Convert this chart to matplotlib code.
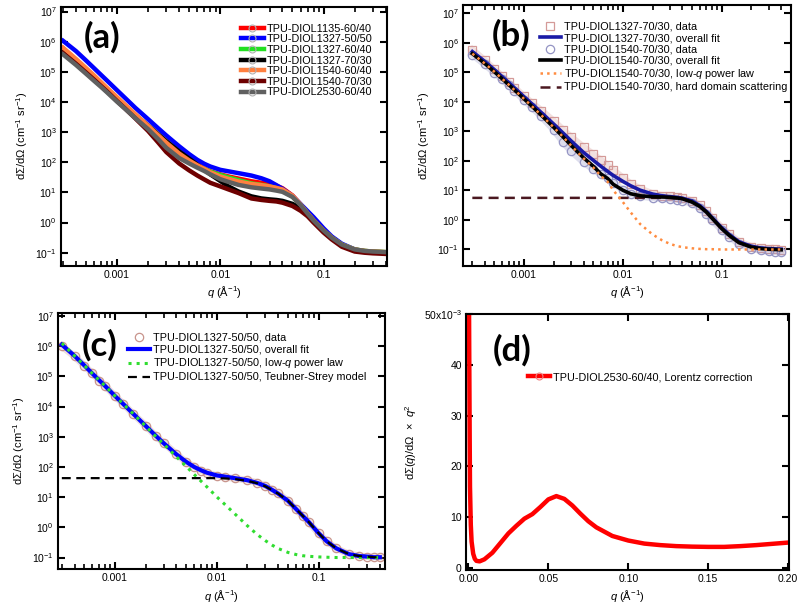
import numpy as np
import matplotlib
matplotlib.use('Agg')
import matplotlib.pyplot as plt
from matplotlib.lines import Line2D
from matplotlib.ticker import LogLocator, NullFormatter, FixedLocator, FixedFormatter, NullLocator

plt.rcParams['font.family'] = ['Liberation Sans', 'DejaVu Sans']
plt.rcParams['mathtext.fontset'] = 'custom'
plt.rcParams['mathtext.rm'] = 'Liberation Sans'
plt.rcParams['mathtext.it'] = 'Liberation Sans:italic'
plt.rcParams['mathtext.bf'] = 'Liberation Sans:bold'
plt.rcParams['mathtext.default'] = 'regular'

# ---------------- data (log10 of intensity, cm^-1 sr^-1) ----------------
q = [3.0e-4, 4e-4, 5e-4, 6e-4, 7e-4, 8e-4, 1e-3, 1.2e-3, 1.5e-3, 2e-3, 2.5e-3, 3e-3,
     4e-3, 5e-3, 6e-3, 7e-3, 8e-3, 0.01, 0.012, 0.015, 0.02, 0.025, 0.03, 0.035,
     0.04, 0.05, 0.06, 0.07, 0.08, 0.1, 0.12, 0.15, 0.2, 0.25, 0.3, 0.35, 0.4]

log_1135_6040 = [5.78, 5.40, 5.09, 4.84, 4.62, 4.43, 4.12, 3.87, 3.56, 3.18, 2.90, 2.66,
                 2.33, 2.09, 1.92, 1.80, 1.70, 1.60, 1.53, 1.46, 1.37, 1.32, 1.28, 1.22,
                 1.14, 0.90, 0.60, 0.31, 0.08, -0.27, -0.50, -0.74, -0.90, -0.95, -0.97, -0.98, -0.99]
log_1327_5050 = [6.03, 5.69, 5.38, 5.12, 4.90, 4.71, 4.39, 4.13, 3.81, 3.43, 3.13, 2.89,
                 2.53, 2.27, 2.08, 1.95, 1.86, 1.75, 1.70, 1.64, 1.56, 1.47, 1.37, 1.24,
                 1.12, 0.88, 0.61, 0.38, 0.18, -0.19, -0.46, -0.70, -0.89, -0.95, -0.97, -0.99, -0.99]
log_1327_6040 = [5.68, 5.32, 5.02, 4.77, 4.56, 4.37, 4.06, 3.81, 3.51, 3.12, 2.82, 2.53,
                 2.21, 2.02, 1.88, 1.78, 1.69, 1.58, 1.50, 1.41, 1.30, 1.25, 1.20, 1.14,
                 1.07, 0.86, 0.58, 0.30, 0.07, -0.27, -0.50, -0.73, -0.89, -0.94, -0.96, -0.97, -0.98]
log_1327_7030 = [5.72, 5.36, 5.06, 4.81, 4.60, 4.41, 4.10, 3.86, 3.57, 3.22, 2.93, 2.70,
                 2.36, 2.12, 1.92, 1.75, 1.60, 1.38, 1.20, 1.03, 0.87, 0.80, 0.77, 0.75,
                 0.72, 0.62, 0.47, 0.28, 0.07, -0.28, -0.51, -0.75, -0.91, -0.96, -0.98, -0.99, -1.00]
log_1540_6040 = [5.80, 5.43, 5.13, 4.88, 4.66, 4.47, 4.16, 3.91, 3.60, 3.21, 2.90, 2.65,
                 2.29, 2.06, 1.90, 1.78, 1.67, 1.53, 1.45, 1.36, 1.28, 1.24, 1.20, 1.15,
                 1.10, 0.89, 0.59, 0.31, 0.08, -0.26, -0.50, -0.73, -0.89, -0.94, -0.96, -0.97, -0.98]
log_1540_7030 = [5.62, 5.27, 4.98, 4.74, 4.53, 4.35, 4.03, 3.78, 3.46, 3.04, 2.66, 2.34,
                 1.96, 1.73, 1.56, 1.43, 1.32, 1.20, 1.10, 0.98, 0.80, 0.75, 0.72, 0.70,
                 0.66, 0.55, 0.39, 0.21, 0.00, -0.33, -0.56, -0.80, -0.96, -1.00, -1.02, -1.03, -1.04]
log_2530_6040 = [5.58, 5.23, 4.94, 4.70, 4.50, 4.32, 4.01, 3.77, 3.47, 3.10, 2.77, 2.48,
                 2.14, 1.96, 1.82, 1.71, 1.60, 1.44, 1.35, 1.25, 1.17, 1.13, 1.10, 1.06,
                 1.02, 0.85, 0.58, 0.30, 0.07, -0.26, -0.50, -0.73, -0.89, -0.94, -0.96, -0.97, -0.98]

labels_a = ['TPU-DIOL1135-60/40', 'TPU-DIOL1327-50/50', 'TPU-DIOL1327-60/40',
            'TPU-DIOL1327-70/30', 'TPU-DIOL1540-60/40', 'TPU-DIOL1540-70/30',
            'TPU-DIOL2530-60/40']

# panel (b)
log_b_data1327 = [5.76, 5.40, 5.10, 4.86, 4.66, 4.48, 4.18, 3.96, 3.70, 3.34, 3.04, 2.80,
                  2.46, 2.22, 2.02, 1.84, 1.68, 1.42, 1.22, 1.05, 0.88, 0.82, 0.79, 0.77,
                  0.74, 0.64, 0.49, 0.29, 0.07, -0.27, -0.50, -0.75, -0.91, -0.96, -0.98, -1.00, -1.02]
log_b_fit1327 = [5.70, 5.37, 5.09, 4.85, 4.65, 4.47, 4.17, 3.93, 3.63, 3.24, 2.93, 2.67,
                 2.28, 2.02, 1.81, 1.64, 1.50, 1.30, 1.15, 1.00, 0.87, 0.81, 0.78, 0.76,
                 0.73, 0.64, 0.48, 0.28, 0.07, -0.27, -0.51, -0.75, -0.90, -0.96, -0.98, -0.99, -1.00]
log_b_data1540 = [5.60, 5.27, 4.99, 4.76, 4.56, 4.38, 4.06, 3.82, 3.50, 3.05, 2.62, 2.33,
                  1.95, 1.72, 1.54, 1.40, 1.24, 1.02, 0.88, 0.80, 0.74, 0.72, 0.70, 0.68,
                  0.65, 0.55, 0.40, 0.20, -0.01, -0.35, -0.58, -0.82, -0.98, -1.04, -1.07, -1.09, -1.11]
log_b_fit1540 = [5.63, 5.30, 5.02, 4.78, 4.58, 4.40, 4.10, 3.85, 3.54, 3.13, 2.80, 2.52,
                 2.10, 1.82, 1.55, 1.40, 1.20, 1.00, 0.88, 0.81, 0.78, 0.77, 0.76, 0.74,
                 0.71, 0.60, 0.45, 0.26, 0.05, -0.30, -0.54, -0.78, -0.93, -0.98, -1.00, -1.01, -1.02]
log_b_powerlaw = [5.63, 5.30, 5.02, 4.78, 4.58, 4.40, 4.10, 3.85, 3.54, 3.13, 2.80, 2.51,
                  2.08, 1.78, 1.48, 1.29, 1.00, 0.60, 0.25, -0.15, -0.50, -0.70, -0.82, -0.89,
                  -0.93, -0.97, -0.99, -1.00, -1.00, -1.01, -1.01, -1.01, -1.01, -1.01, -1.01, -1.01, -1.01]
log_b_hard = [0.74, 0.74, 0.74, 0.74, 0.74, 0.74, 0.74, 0.74, 0.74, 0.74, 0.74, 0.74,
              0.74, 0.74, 0.74, 0.74, 0.74, 0.74, 0.74, 0.74, 0.74, 0.74, 0.73, 0.72,
              0.70, 0.60, 0.45, 0.26, 0.05, -0.30, -0.54, -0.78, -0.93, -0.98, -1.00, -1.01, -1.02]
labels_b = ['TPU-DIOL1327-70/30, data', 'TPU-DIOL1327-70/30, overall fit',
            'TPU-DIOL1540-70/30, data', 'TPU-DIOL1540-70/30, overall fit',
            'TPU-DIOL1540-70/30, low-$\\mathit{q}$ power law',
            'TPU-DIOL1540-70/30, hard domain scattering']

# panel (c)
log_c_data = [6.00, 5.66, 5.35, 5.10, 4.86, 4.69, 4.34, 4.10, 3.76, 3.37, 3.03, 2.80,
              2.43, 2.16, 2.01, 1.88, 1.80, 1.71, 1.66, 1.62, 1.56, 1.48, 1.38, 1.25,
              1.13, 0.88, 0.60, 0.37, 0.17, -0.20, -0.46, -0.70, -0.89, -0.95, -0.97, -0.98, -0.99]
log_c_fit = [6.05, 5.68, 5.36, 5.09, 4.87, 4.68, 4.35, 4.09, 3.77, 3.36, 3.04, 2.79,
             2.42, 2.17, 2.00, 1.89, 1.81, 1.72, 1.68, 1.63, 1.56, 1.47, 1.37, 1.24,
             1.12, 0.88, 0.61, 0.38, 0.18, -0.19, -0.46, -0.70, -0.89, -0.95, -0.97, -0.99, -0.99]
log_c_powerlaw = [6.10, 5.68, 5.36, 5.09, 4.87, 4.68, 4.35, 4.09, 3.77, 3.35, 3.02, 2.76,
                  2.34, 2.02, 1.75, 1.53, 1.34, 1.01, 0.76, 0.45, 0.05, -0.24, -0.44, -0.59,
                  -0.70, -0.83, -0.90, -0.94, -0.96, -0.98, -0.99, -1.00, -1.00, -1.00, -1.00, -1.00, -1.00]
log_c_ts = [1.63, 1.63, 1.63, 1.63, 1.63, 1.63, 1.63, 1.63, 1.63, 1.63, 1.63, 1.63,
            1.63, 1.63, 1.63, 1.63, 1.63, 1.63, 1.62, 1.60, 1.54, 1.46, 1.36, 1.23,
            1.12, 0.88, 0.61, 0.38, 0.18, -0.19, -0.46, -0.70, -0.89, -0.95, -0.97, -0.99, -0.99]
labels_c = ['TPU-DIOL1327-50/50, data', 'TPU-DIOL1327-50/50, overall fit',
            'TPU-DIOL1327-50/50, low-$\\mathit{q}$ power law',
            'TPU-DIOL1327-50/50, Teubner-Strey model']

# panel (d) (values in units of 1e-3)
q_d = [0.0003, 0.0005, 0.0008, 0.001, 0.0015, 0.002, 0.003, 0.004, 0.005, 0.007, 0.01,
       0.015, 0.02, 0.025, 0.03, 0.035, 0.04, 0.045, 0.05, 0.055, 0.06, 0.065, 0.07,
       0.075, 0.08, 0.09, 0.1, 0.11, 0.12, 0.13, 0.14, 0.15, 0.16, 0.17, 0.18, 0.19, 0.2]
lorentz_d_milli = [58, 44, 26, 16, 8.5, 5.2, 2.8, 1.8, 1.4, 1.3, 1.7,
                   3.0, 4.9, 6.8, 8.3, 9.7, 10.6, 12.0, 13.5, 14.15, 13.6, 12.3, 10.7,
                   9.2, 8.0, 6.3, 5.4, 4.8, 4.5, 4.3, 4.2, 4.15, 4.15, 4.3, 4.5, 4.75, 5.0]
label_d = 'TPU-DIOL2530-60/40, Lorentz correction'

# ---------------- figure ----------------
fig = plt.figure(figsize=(8.0, 6.1), dpi=100)
W, H = 800.0, 610.0
def add_ax(l, t, r, b):
    return fig.add_axes([l / W, 1 - b / H, (r - l) / W, (b - t) / H])

ax_a = add_ax(61, 6.7, 387.3, 266)
ax_b = add_ax(463.3, 5, 790.7, 266)
ax_c = add_ax(58, 313.3, 385, 569.3)
ax_d = add_ax(466, 314, 789, 570)

qa = np.array(q)
ytick_vals = [10.0 ** k for k in range(-1, 8)]
ytick_labs = ['$10^{%d}$' % k for k in range(-1, 8)]
ylab = 'd\u03a3/d\u03a9 (cm$^{-1}$ sr$^{-1}$)'
xlab = '$\\mathit{q}$ (\u00c5$^{-1}$)'

def style_log(ax, xlim, ylim):
    ax.set_xscale('log')
    ax.set_yscale('log')
    ax.set_xlim(*xlim)
    ax.set_ylim(*ylim)
    ax.xaxis.set_major_locator(FixedLocator([0.001, 0.01, 0.1]))
    ax.xaxis.set_major_formatter(FixedFormatter(['0.001', '0.01', '0.1']))
    ax.xaxis.set_minor_locator(LogLocator(base=10, subs=np.arange(2, 10) * 1.0, numticks=30))
    ax.xaxis.set_minor_formatter(NullFormatter())
    ax.yaxis.set_major_locator(FixedLocator(ytick_vals))
    ax.yaxis.set_major_formatter(FixedFormatter(ytick_labs))
    ax.yaxis.set_minor_locator(NullLocator())
    ax.set_xlabel(xlab, fontsize=8, labelpad=3)
    ax.set_ylabel(ylab, fontsize=8, labelpad=4)

def style_common(ax):
    ax.tick_params(which='both', direction='in', top=True, right=True, labelsize=7.5,
                   pad=3, colors='black')
    ax.tick_params(which='major', length=5, width=1.5)
    ax.tick_params(which='minor', length=3.5, width=1.2)
    for s in ax.spines.values():
        s.set_linewidth(1.5)

def panel_letter(ax, txt, x, y):
    ax.text(x, y, txt, transform=ax.transAxes, ha='center', va='center',
            fontsize=25, fontweight='bold', family=['Lato', 'DejaVu Sans'])

# ---- (a)
cols_a = ['#ff0000', '#0000ff', '#22e022', '#000000', '#ff8040', '#6e0000', '#606060']
series_a = [log_1135_6040, log_1327_5050, log_1327_6040, log_1327_7030,
            log_1540_6040, log_1540_7030, log_2530_6040]
for vals, c in zip(series_a, cols_a):
    ax_a.plot(qa, 10.0 ** np.array(vals), color=c, lw=3.2, solid_joinstyle='round')
style_log(ax_a, (2.87e-4, 0.414), (10 ** -1.44, 10 ** 7.16))
style_common(ax_a)
h_a = [Line2D([0], [0], color=c, lw=3.2, marker='o', ms=5, mfc='none', mec='#b0b0b0', mew=0.8)
       for c in cols_a]
ax_a.legend(h_a, labels_a, loc='upper left', bbox_to_anchor=(0.552, 0.935), frameon=False,
            fontsize=7.8, handlelength=2.1, handletextpad=0.3, labelspacing=0.06,
            borderpad=0, borderaxespad=0)
panel_letter(ax_a, '(a)', 0.126, 0.883)

# ---- (b)
c_sq = '#d49a98'
c_ci = '#9494c4'
ax_b.plot(qa, 10.0 ** np.array(log_b_data1327), color=c_sq, lw=5, alpha=0.3)
ax_b.plot(qa, 10.0 ** np.array(log_b_data1327), ls='none', marker='s', ms=6, mfc='none',
          mec=c_sq, mew=0.9)
ax_b.plot(qa, 10.0 ** np.array(log_b_data1540), color=c_ci, lw=5, alpha=0.3)
ax_b.plot(qa, 10.0 ** np.array(log_b_data1540), ls='none', marker='o', ms=6, mfc='none',
          mec=c_ci, mew=0.9)
ax_b.plot(qa, 10.0 ** np.array(log_b_hard), color='#4a1820', lw=1.8, ls=(0, (4, 2.5)))
ax_b.plot(qa, 10.0 ** np.array(log_b_fit1327), color='#1a1aa6', lw=2.6)
ax_b.plot(qa, 10.0 ** np.array(log_b_fit1540), color='#000000', lw=2.6)
ax_b.plot(qa, 10.0 ** np.array(log_b_powerlaw), color='#ff8c40', lw=1.8, ls=':')
style_log(ax_b, (2.43e-4, 0.50), (10 ** -1.57, 10 ** 7.28))
style_common(ax_b)
h_b = [Line2D([0], [0], ls='none', marker='s', ms=6, mfc='none', mec=c_sq, mew=0.9),
       Line2D([0], [0], color='#1a1aa6', lw=2.6),
       Line2D([0], [0], ls='none', marker='o', ms=6, mfc='none', mec=c_ci, mew=0.9),
       Line2D([0], [0], color='#000000', lw=2.6),
       Line2D([0], [0], color='#ff8c40', lw=1.8, ls=':'),
       Line2D([0], [0], color='#4a1820', lw=1.8, ls=(0, (4, 2.5)))]
ax_b.legend(h_b, labels_b, loc='upper left', bbox_to_anchor=(0.234, 0.935), frameon=False,
            fontsize=7.8, handlelength=1.95, handletextpad=0.25, labelspacing=0.12,
            borderpad=0, borderaxespad=0)
panel_letter(ax_b, '(b)', 0.146, 0.885)

# ---- (c)
c_cc = '#c8948c'
ax_c.plot(qa, 10.0 ** np.array(log_c_data), color=c_cc, lw=5, alpha=0.3)
ax_c.plot(qa, 10.0 ** np.array(log_c_data), ls='none', marker='o', ms=6, mfc='none',
          mec=c_cc, mew=0.9)
ax_c.plot(qa, 10.0 ** np.array(log_c_fit), color='#0000ff', lw=3.0)
ax_c.plot(qa, 10.0 ** np.array(log_c_powerlaw), color='#30dd30', lw=2.2, ls=':')
ax_c.plot(qa, 10.0 ** np.array(log_c_ts), color='#000000', lw=1.6, ls=(0, (4, 2.5)))
style_log(ax_c, (2.75e-4, 0.45), (10 ** -1.39, 10 ** 7.09))
style_common(ax_c)
h_c = [Line2D([0], [0], ls='none', marker='o', ms=6, mfc='none', mec=c_cc, mew=0.9),
       Line2D([0], [0], color='#0000ff', lw=3.0),
       Line2D([0], [0], color='#30dd30', lw=2.2, ls=':'),
       Line2D([0], [0], color='#000000', lw=1.6, ls=(0, (4, 2.5)))]
ax_c.legend(h_c, labels_c, loc='upper left', bbox_to_anchor=(0.214, 0.925), frameon=False,
            fontsize=7.8, handlelength=2.0, handletextpad=0.35, labelspacing=0.18,
            borderpad=0, borderaxespad=0)
panel_letter(ax_c, '(c)', 0.128, 0.876)

# ---- (d)
ax_d.plot(q_d, np.array(lorentz_d_milli) * 1e-3, color='#ff0000', lw=3.2)
ax_d.set_xlim(-0.0015, 0.2005)
ax_d.set_ylim(-0.4e-3, 50e-3)
ax_d.xaxis.set_major_locator(FixedLocator([0.0, 0.05, 0.10, 0.15, 0.20]))
ax_d.xaxis.set_major_formatter(FixedFormatter(['0.00', '0.05', '0.10', '0.15', '0.20']))
ax_d.yaxis.set_major_locator(FixedLocator([0, 0.01, 0.02, 0.03, 0.04, 0.05]))
ax_d.yaxis.set_major_formatter(FixedFormatter(['0', '10', '20', '30', '40', '50x10$^{-3}$']))
ax_d.set_xlabel(xlab, fontsize=8, labelpad=3)
ax_d.set_ylabel('d\u03a3($\\mathit{q}$)/d\u03a9  \u00d7  $\\mathit{q}^{2}$', fontsize=8, labelpad=3)
style_common(ax_d)
h_d = [Line2D([0], [0], color='#ff0000', lw=3.2, marker='o', ms=5, mfc='none',
              mec='#f08080', mew=0.8)]
ax_d.legend(h_d, [label_d], loc='upper left', bbox_to_anchor=(0.192, 0.773), frameon=False,
            fontsize=7.8, handlelength=2.0, handletextpad=0.35, borderpad=0, borderaxespad=0)
panel_letter(ax_d, '(d)', 0.142, 0.859)

fig.savefig('out.png', dpi=100)
